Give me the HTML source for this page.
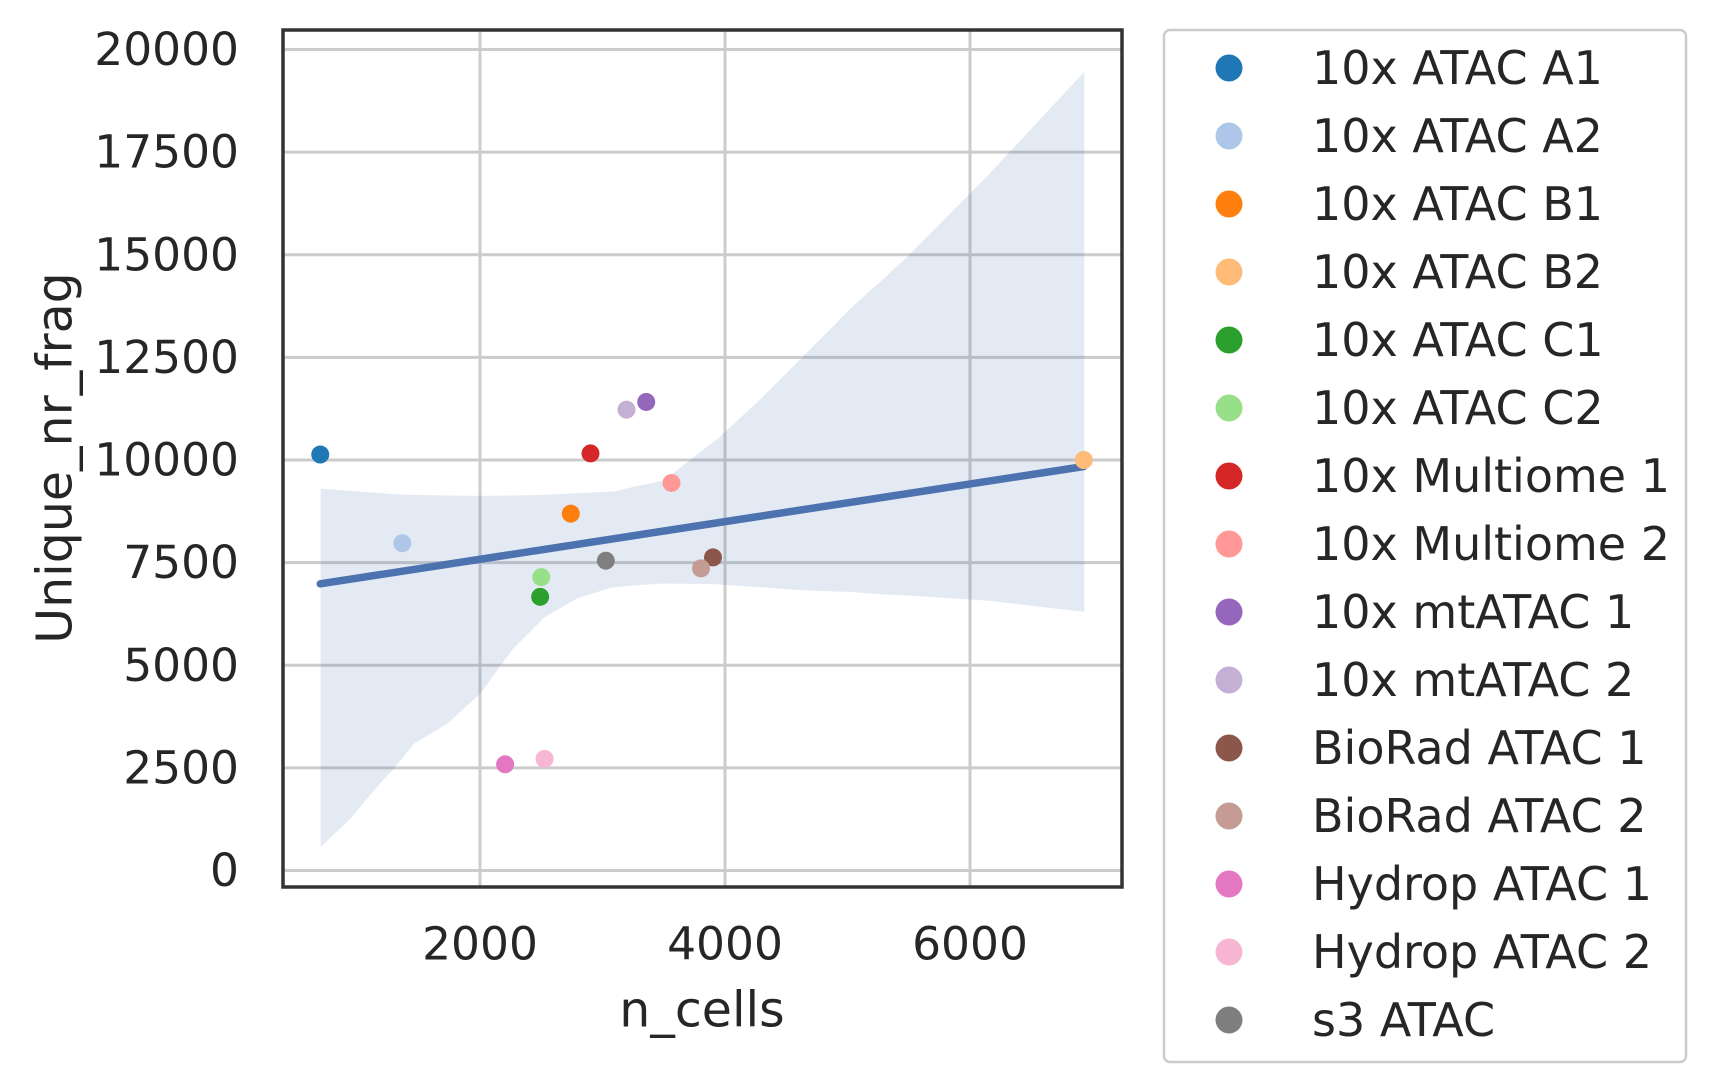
<!DOCTYPE html>
<html><head><meta charset="utf-8"><style>
html,body{margin:0;padding:0;background:#fff;}
svg{display:block;font-family:"DejaVu Sans","Liberation Sans",sans-serif;}
</style></head><body>
<svg id="chart" width="1716" height="1092" viewBox="0 0 1716 1092" xmlns="http://www.w3.org/2000/svg">
<g id="grid"></g>
<g id="band"></g>
<g id="reg"></g>
<g id="pts"></g>
<rect x="283" y="30" width="839" height="857" fill="none" stroke="#333" stroke-width="3.5"/>
<g id="xt"></g>
<g id="yt"></g>
<text x="702" y="1010" font-size="49" fill="#262626" text-anchor="middle" dominant-baseline="central">n_cells</text>
<text transform="translate(55,458) rotate(-90)" font-size="49" fill="#262626" text-anchor="middle" dominant-baseline="central">Unique_nr_frag</text>
<rect x="1164" y="30" width="522" height="1032" rx="6" fill="#fff" stroke="#ccc" stroke-width="2.5"/>
<g id="leg"></g>
</svg>
<script>
const categories=["10x ATAC A1","10x ATAC A2","10x ATAC B1","10x ATAC B2","10x ATAC C1","10x ATAC C2","10x Multiome 1","10x Multiome 2","10x mtATAC 1","10x mtATAC 2","BioRad ATAC 1","BioRad ATAC 2","Hydrop ATAC 1","Hydrop ATAC 2","s3 ATAC"];
const colors=["#1f77b4","#aec7e8","#ff7f0e","#ffbb78","#2ca02c","#98df8a","#d62728","#ff9896","#9467bd","#c5b0d5","#8c564b","#c49c94","#e377c2","#f7b6d2","#7f7f7f"];
const nCells=[696,1366,2741,6929,2491,2500,2902,3563,3357,3196,3902,3804,2205,2527,3027];
const uniqueFrag=[10133,7973,8693,10000,6667,7147,10160,9440,11413,11227,7627,7360,2587,2720,7547];
const bandX=[699,934,1199,1288,1465,1730,2000,2261,2527,2792,3058,3102,3280,3500,3900,3942,4296,4606,5049,5270,5491,6155,6934];
const bandUpper=[9300,9250,9190,9165,9150,9135,9125,9135,9150,9190,9230,9240,9365,9500,10430,10520,11500,12430,13760,14350,14960,16960,19460];
const bandLower=[573,1240,2170,2450,3100,3570,4300,5370,6170,6630,6880,6900,6950,6990,6975,6970,6900,6830,6780,6730,6700,6570,6300];
const xTicks=[2000,4000,6000];
const yTicks=[0,2500,5000,7500,10000,12500,15000,17500,20000];
const NS="http://www.w3.org/2000/svg";
const X=v=>480+(v-2000)*245/2000;
const Y=v=>870.5-v*821/20000;
function mk(tag,attrs,parent){const e=document.createElementNS(NS,tag);for(const k in attrs)e.setAttribute(k,attrs[k]);document.getElementById(parent).appendChild(e);return e;}
yTicks.forEach(t=>{
 const l=mk('line',{x1:283,x2:1122,y1:Y(t),y2:Y(t),stroke:'#cccccc','stroke-width':3},'grid');
 
 
 const tx=mk('text',{x:239,y:Y(t),'font-size':45.5,fill:'#262626','text-anchor':'end','dominant-baseline':'central'},'yt');
 tx.textContent=t;
 
 
});
xTicks.forEach(t=>{
 const l=mk('line',{x1:X(t),x2:X(t),y1:30,y2:887,stroke:'#cccccc','stroke-width':3},'grid');
 
 
 const tx=mk('text',{x:X(t),y:944,'font-size':45.5,fill:'#262626','text-anchor':'middle','dominant-baseline':'central'},'xt');
 tx.textContent=t;
 
 
});
let d=bandX.map((x,i)=>(i?'L':'M')+X(x)+','+Y(bandUpper[i])).join('');
for(let i=bandX.length-1;i>=0;i--)d+='L'+X(bandX[i])+','+Y(bandLower[i]);
const bp=mk('path',{d:d+'Z',fill:'#4c72b0','fill-opacity':0.15},'band');


const n=nCells.length;const mx=nCells.reduce((a,b)=>a+b)/n,my=uniqueFrag.reduce((a,b)=>a+b)/n;
let sxy=0,sxx=0;for(let i=0;i<n;i++){sxy+=(nCells[i]-mx)*(uniqueFrag[i]-my);sxx+=(nCells[i]-mx)**2;}
const b=sxy/sxx,a=my-b*mx;const x0=Math.min(...nCells),x1=Math.max(...nCells);
const rl=mk('line',{x1:X(x0),y1:Y(a+b*x0),x2:X(x1),y2:Y(a+b*x1),stroke:'#4c72b0','stroke-width':7.5,'stroke-linecap':'round'},'reg');


categories.forEach((c,i)=>{
 const p=mk('circle',{cx:X(nCells[i]),cy:Y(uniqueFrag[i]),r:9,fill:colors[i]},'pts');
 
 
 const yy=68+i*68;
 const m=mk('circle',{cx:1229,cy:yy,r:13.5,fill:colors[i]},'leg');
 
 
 const t=mk('text',{x:1312,y:yy,'font-size':46,fill:'#262626','dominant-baseline':'central'},'leg');
 t.textContent=c;
 
 
});
</script>
</body></html>
